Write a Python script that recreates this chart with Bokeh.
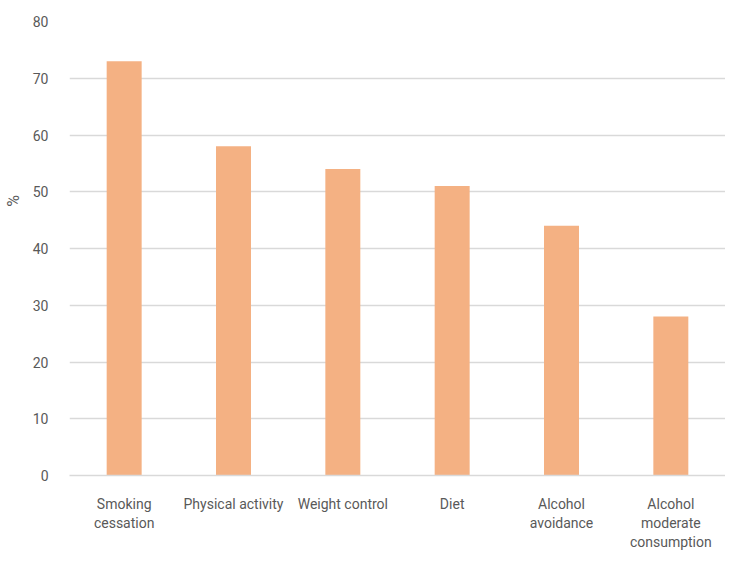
from bokeh.plotting import figure
from bokeh.models import SingleIntervalTicker
from bokeh.embed import file_html
from bokeh.resources import INLINE

categories = ["Smoking\ncessation", "Physical activity", "Weight control", "Diet",
              "Alcohol\navoidance", "Alcohol\nmoderate\nconsumption"]
values = [73, 58, 54, 51, 44, 28]

FONT = "Roboto"
GREY = "#595959"

p = figure(x_range=categories, y_range=(0, 80), width=725, height=554,
           output_backend="svg", toolbar_location=None,
           min_border_left=68, min_border_right=0, min_border_top=21, min_border_bottom=79)
p.vbar(x=categories, top=values, width=0.32, fill_color="#F4B183", line_color=None)

p.outline_line_color = None
p.xgrid.grid_line_color = None
p.ygrid.grid_line_color = "#d9d9d9"
p.ygrid.grid_line_width = 1.3
p.yaxis.ticker = SingleIntervalTicker(interval=10)
p.yaxis.axis_line_color = None
p.yaxis.major_tick_line_color = None
p.yaxis.minor_tick_line_color = None
p.yaxis.major_label_text_font = FONT
p.yaxis.major_label_text_font_size = "14px"
p.yaxis.major_label_text_color = GREY
p.yaxis.major_label_standoff = 15
p.yaxis.axis_label = "\u00a0" * 24 + "%"
p.yaxis.axis_label_text_font = FONT
p.yaxis.axis_label_text_font_size = "16px"
p.yaxis.axis_label_text_font_style = "normal"
p.yaxis.axis_label_text_color = GREY
p.yaxis.axis_label_standoff = 7

p.xaxis.axis_line_color = "#d9d9d9"
p.xaxis.axis_line_width = 1.3
p.xaxis.major_tick_line_color = None
p.xaxis.minor_tick_line_color = None
p.xaxis.major_label_text_font = FONT
p.xaxis.major_label_text_font_size = "14px"
p.xaxis.major_label_text_color = GREY
p.xaxis.major_label_standoff = 14

open("out.html", "w").write(file_html(p, INLINE))
